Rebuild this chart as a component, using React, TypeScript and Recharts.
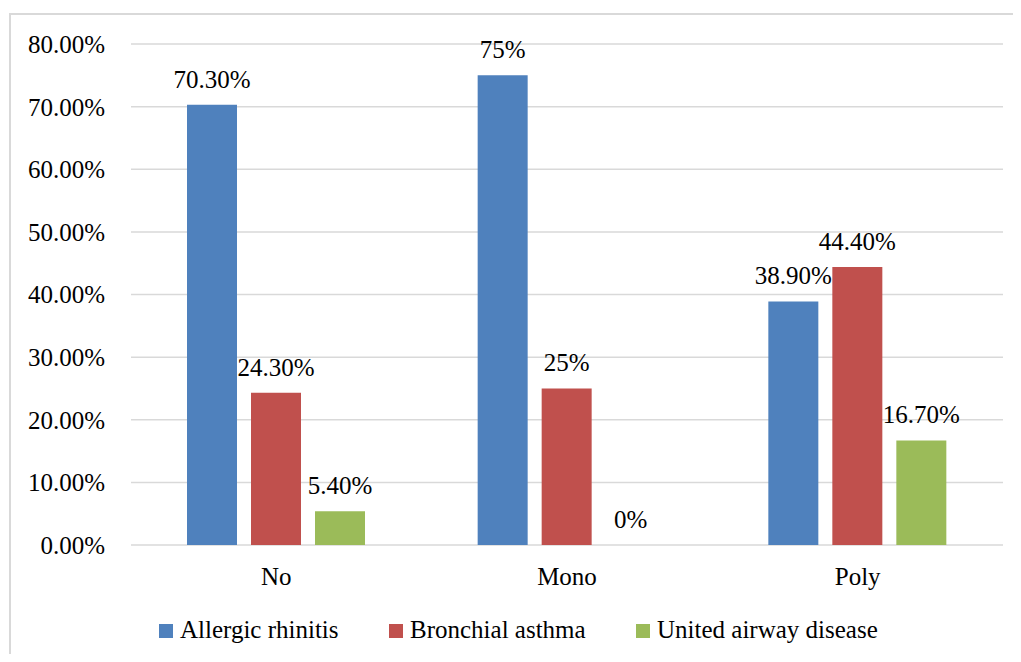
import { BarChart, Bar, XAxis, YAxis, CartesianGrid, LabelList } from 'recharts';

const categories = ['No', 'Mono', 'Poly'];
const allergicRhinitis = [70.3, 75, 38.9];
const bronchialAsthma = [24.3, 25, 44.4];
const unitedAirway = [5.4, 0, 16.7];
const yTicks = [0, 10, 20, 30, 40, 50, 60, 70, 80];

const series = [
  { key: 'allergic', name: 'Allergic rhinitis', color: '#4F81BD', values: allergicRhinitis },
  { key: 'asthma', name: 'Bronchial asthma', color: '#C0504D', values: bronchialAsthma },
  { key: 'united', name: 'United airway disease', color: '#9BBB59', values: unitedAirway },
];

// left edge of each legend entry (square)
const legendX = [159, 389, 636];

const data = categories.map((name, i) => {
  const row: Record<string, string | number> = { name };
  series.forEach((s) => {
    row[s.key] = s.values[i];
  });
  return row;
});

const FONT = '"Liberation Serif", "Times New Roman", Tinos, serif';
const FONT_SIZE = 25;

// whole numbers print bare ("75%"), others with two decimals ("70.30%")
const formatLabel = (v: number) => (Number.isInteger(v) ? `${v}%` : `${v.toFixed(2)}%`);

const ValueLabel = (props: any) => {
  const { x, y, width, value } = props;
  const v = Number(value);
  return (
    <text
      x={Number(x) + Number(width) / 2}
      y={Number(y) - 17}
      textAnchor="middle"
      fill="#000"
      fontFamily={FONT}
      fontSize={FONT_SIZE}
    >
      {formatLabel(v)}
    </text>
  );
};

function LegendRow() {
  return (
    <>
      {series.map((s, i) => (
        <div
          key={s.key}
          style={{
            position: 'absolute',
            left: legendX[i],
            top: 617,
            display: 'flex',
            alignItems: 'center',
            fontFamily: FONT,
            fontSize: FONT_SIZE,
            lineHeight: `${FONT_SIZE}px`,
            color: '#000',
            whiteSpace: 'nowrap',
          }}
        >
          <span style={{ width: 14, height: 14, background: s.color, marginRight: 7, marginTop: 2 }} />
          <span>{s.name}</span>
        </div>
      ))}
    </>
  );
}

export default function App() {
  return (
    <div style={{ margin: -8 }}>
      <div style={{ position: 'relative', width: 1021, height: 662, overflow: 'hidden', background: '#fff' }}>
        <div
          style={{
            position: 'absolute',
            left: 9,
            top: 13,
            width: 1040,
            height: 700,
            border: '2px solid #D9D9D9',
          }}
        />
        <div style={{ position: 'absolute', left: 0, top: 0 }}>
          <BarChart
            width={1021}
            height={662}
            data={data}
            margin={{ top: 44, right: 18, bottom: 87, left: 0 }}
            barCategoryGap={56}
            barGap={14}
          >
            <CartesianGrid vertical={false} stroke="#D9D9D9" strokeWidth={1.5} />
            <XAxis
              dataKey="name"
              axisLine={false}
              tickLine={false}
              tickSize={0}
              tickMargin={22}
              height={30}
              tick={{ fill: '#000', fontFamily: FONT, fontSize: FONT_SIZE }}
            />
            <YAxis
              domain={[0, 80]}
              ticks={yTicks}
              width={131}
              axisLine={false}
              tickLine={false}
              tickSize={0}
              tickMargin={26}
              tickFormatter={(v: number) => `${v.toFixed(2)}%`}
              tick={{ fill: '#000', fontFamily: FONT, fontSize: FONT_SIZE }}
            />
            {series.map((s) => (
              // tiny minPointSize keeps the zero bar in the layout so its label is drawn
              <Bar
                key={s.key}
                dataKey={s.key}
                name={s.name}
                fill={s.color}
                minPointSize={0.01}
                isAnimationActive={false}
              >
                <LabelList dataKey={s.key} content={ValueLabel} />
              </Bar>
            ))}
          </BarChart>
        </div>
        <LegendRow />
      </div>
    </div>
  );
}
